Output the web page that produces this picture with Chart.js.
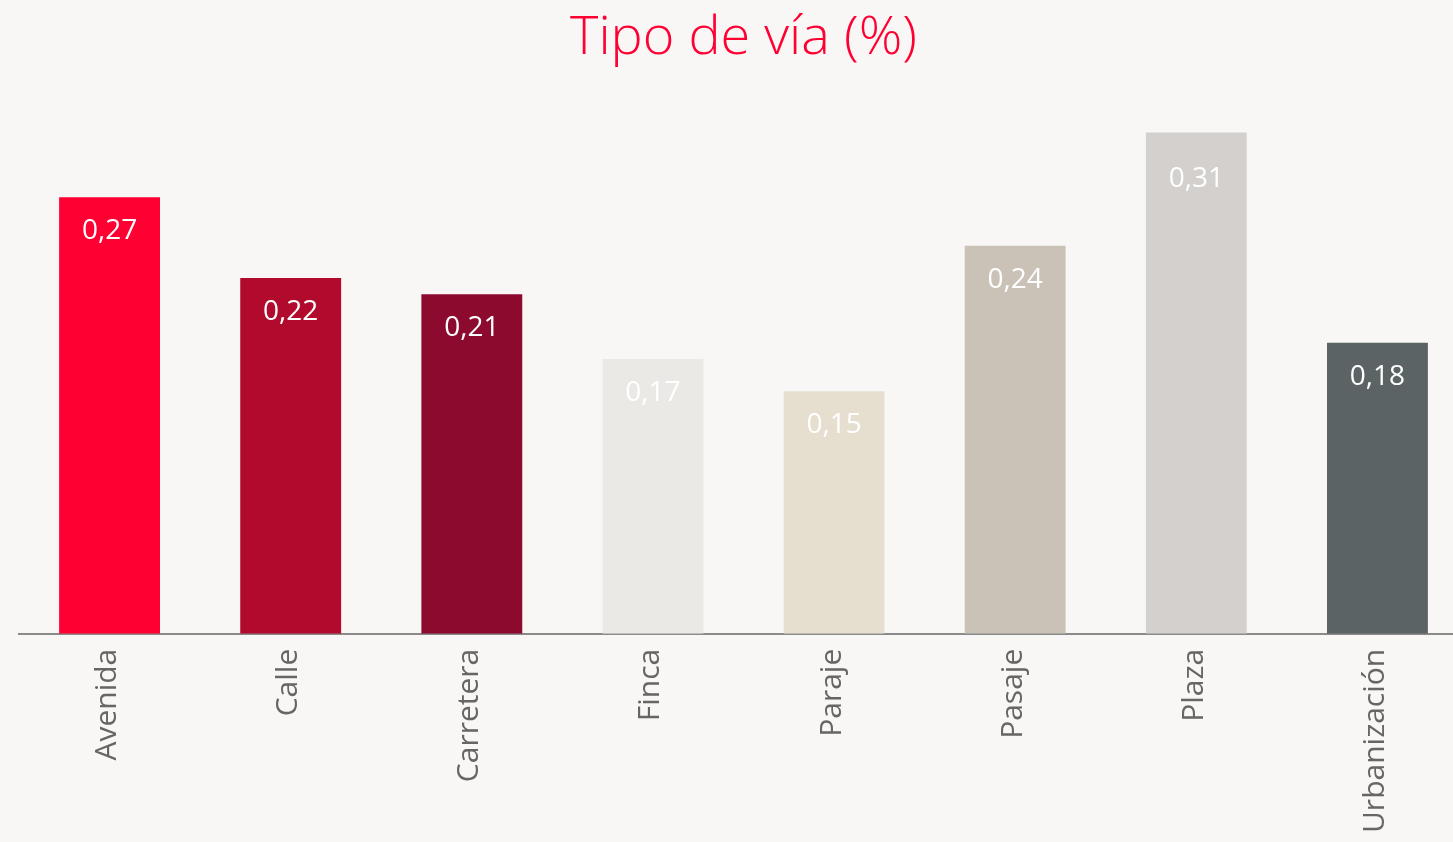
<!DOCTYPE html>
<html>
<head>
<meta charset="utf-8">
<script src="https://cdn.jsdelivr.net/npm/chart.js@4"></script>
<style>
  html, body { margin: 0; padding: 0; background: #f8f7f5; overflow: hidden; }
  #wrap { width: 1468px; height: 842px; position: relative; }
</style>
</head>
<body>
<div id="wrap"><canvas id="viaChart"></canvas></div>
<script>
const categories = ["Avenida", "Calle", "Carretera", "Finca", "Paraje", "Pasaje", "Plaza", "Urbanización"];
const values = [0.27, 0.22, 0.21, 0.17, 0.15, 0.24, 0.31, 0.18];
const barColors = ["#ff0033", "#b10a2c", "#8c0a2e", "#ebe9e5", "#e6dfd0", "#cac2b6", "#d3d0cd", "#5b6365"];

// draw the value inside the top of each bar (kept clear of the title area)
const valueLabels = {
    id: "valueLabels",
    afterDatasetsDraw(chart) {
        const ctx = chart.ctx;
        const meta = chart.getDatasetMeta(0);
        const minY = chart.chartArea.top + 98;
        ctx.save();
        ctx.font = "28px 'Open Sans', sans-serif";
        ctx.fillStyle = "#ffffff";
        ctx.textAlign = "center";
        ctx.textBaseline = "middle";
        meta.data.forEach((bar, i) => {
            ctx.fillText(values[i].toFixed(2).replace(".", ","), bar.x, Math.max(bar.y + 34, minY));
        });
        ctx.restore();
    }
};

let ctx = document.getElementById("viaChart").getContext("2d");
let viaChart = new Chart(ctx, {
    type: "bar",
    data: {
        labels: categories,
        datasets: [{
            data: values,
            backgroundColor: barColors,
            categoryPercentage: 0.557,
            barPercentage: 1
        }]
    },
    options: {
        responsive: true,
        maintainAspectRatio: false,
        animation: false,
        layout: { padding: { left: 19, right: 0, top: 0, bottom: -6 } },
        plugins: {
            legend: { display: false },
            tooltip: { enabled: false },
            title: {
                display: true,
                text: "Tipo de vía (%)",
                color: "#ff0033",
                font: { family: "'Open Sans', sans-serif", size: 54, weight: "300" },
                padding: { top: 6, bottom: 10 }
            }
        },
        scales: {
            x: {
                grid: { display: false, drawTicks: false },
                border: { display: true, color: "#8a8a8a", width: 2 },
                ticks: {
                    color: "#666666",
                    font: { family: "'Open Sans', sans-serif", size: 30 },
                    maxRotation: 90,
                    minRotation: 90,
                    padding: 15,
                    labelOffset: -2
                }
            },
            y: {
                display: false,
                min: 0,
                max: 0.342
            }
        }
    },
    plugins: [valueLabels]
});
</script>
</body>
</html>
